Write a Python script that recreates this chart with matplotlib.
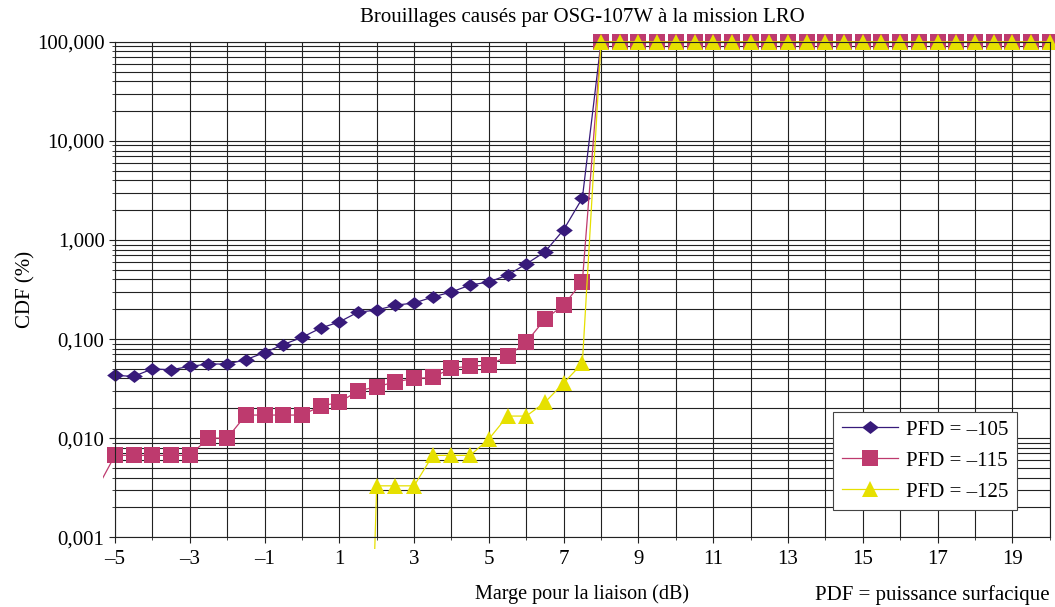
import numpy as np
import matplotlib
matplotlib.use("Agg")
from matplotlib import pyplot as plt
from matplotlib.patches import Rectangle
from matplotlib.ticker import FixedLocator, LogLocator, NullFormatter

plt.rcParams['font.family'] = ['Liberation Serif', 'DejaVu Serif']

# marge (dB), pas de 0.5
x_105 = np.arange(-5, 20.01, 0.5)
y_105 = [0.043, 0.042, 0.050, 0.049, 0.053, 0.056, 0.056, 0.062, 0.073, 0.088,
         0.104, 0.129, 0.149, 0.187, 0.196, 0.220, 0.231, 0.266, 0.299, 0.351,
         0.377, 0.443, 0.573, 0.760, 1.27, 2.65] + [100.0] * 25

x_115 = np.arange(-5.5, 20.01, 0.5)
y_115 = [0.003, 0.0067, 0.0067, 0.0067, 0.0067, 0.0067, 0.0100, 0.0100, 0.0171,
         0.0171, 0.0171, 0.0171, 0.021, 0.023, 0.030, 0.033, 0.037, 0.040, 0.041,
         0.051, 0.053, 0.055, 0.067, 0.093, 0.159, 0.220, 0.38] + [100.0] * 25

x_125 = np.arange(1.5, 20.01, 0.5)
y_125 = [3e-9, 0.0033, 0.0033, 0.0033, 0.0067, 0.0067, 0.0067, 0.0098, 0.0167,
         0.0167, 0.023, 0.036, 0.057] + [100.0] * 25

labels = ['PFD = \u2013105', 'PFD = \u2013115', 'PFD = \u2013125']
colors = ['#371a7a', '#be3a6e', '#e6e000']

xticks = list(range(-5, 20, 2))
xticklabels = [str(v).replace('-', '\u2013') for v in xticks]
yticks = [0.001, 0.01, 0.1, 1, 10, 100]
yticklabels = ['0,001', '0,010', '0,100', '1,000', '10,000', '100,000']

# losange un peu aplati comme dans l'original
diamond = [(-1, 0), (0, 0.78), (1, 0), (0, -0.78), (-1, 0)]

fig = plt.figure(figsize=(10.55, 6.07), dpi=100)
ax = fig.add_axes([0.109, 0.115, 0.886, 0.816])
ax.set_yscale('log')
ax.set_xlim(-5, 20)
ax.set_ylim(0.001, 100)

clip = Rectangle((-0.013, -0.024), 1.03, 1.06, transform=ax.transAxes,
                 facecolor='none', edgecolor='none')

l1, = ax.plot(x_105, y_105, color=colors[0], lw=0.9, marker=diamond, ms=12,
              markeredgewidth=0, label=labels[0])
l2, = ax.plot(x_115, y_115, color=colors[1], lw=0.9, marker='s', ms=11.5,
              markeredgewidth=0, markevery=list(range(1, len(x_115))), label=labels[1])
l3, = ax.plot(x_125, y_125, color=colors[2], lw=0.9, marker='^', ms=12,
              markeredgewidth=0, markevery=list(range(1, len(x_125))), label=labels[2])
for ln in (l1, l2, l3):
    ln.set_clip_path(clip)

ax.xaxis.set_major_locator(FixedLocator(xticks))
ax.set_xticklabels(xticklabels)
ax.xaxis.set_minor_locator(FixedLocator(range(-5, 21)))
ax.set_yticks(yticks)
ax.set_yticklabels(yticklabels)
ax.yaxis.set_minor_locator(LogLocator(base=10, subs=np.arange(2, 10)))
ax.yaxis.set_minor_formatter(NullFormatter())

ax.grid(which='both', axis='both', color='#222222', lw=0.8)
ax.set_axisbelow(True)
ax.tick_params(axis='both', which='major', labelsize=15, length=4, color='#222222')
ax.tick_params(axis='both', which='minor', length=2, color='#222222')
ax.tick_params(axis='x', pad=5)
for s in ax.spines.values():
    s.set_color('#222222')
    s.set_linewidth(0.8)

ax.set_title('Brouillages causés par OSG-107W à la mission LRO', fontsize=15, pad=14)
ax.set_xlabel('Marge pour la liaison (dB)', fontsize=14.5, labelpad=11)
ax.set_ylabel('CDF (%)', fontsize=15, labelpad=1)
fig.text(0.995, 0.004, 'PDF = puissance surfacique', fontsize=15, ha='right', va='bottom')

leg = ax.legend(loc='lower right', bbox_to_anchor=(0.965, 0.055), fontsize=15,
                fancybox=False, framealpha=1, edgecolor='#444444',
                handlelength=2.7, handletextpad=0.4, borderpad=0.4,
                labelspacing=0.55, borderaxespad=0)
leg.get_frame().set_linewidth(0.8)

fig.savefig('out.png', dpi=100)
